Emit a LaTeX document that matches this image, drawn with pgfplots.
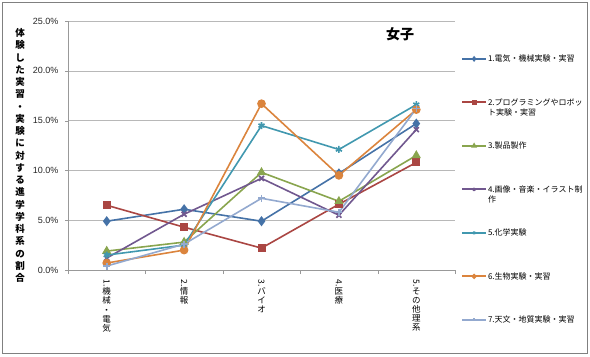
\documentclass[border=0pt]{standalone}
\usepackage{fontspec}
\setmainfont{Liberation Sans}
\newfontfamily\jp{Noto Sans CJK JP}
\usepackage{pgfplots}
\pgfplotsset{compat=1.18}
\definecolor{s1}{HTML}{4572A7}
\definecolor{s2}{HTML}{AA4643}
\definecolor{s3}{HTML}{89A54E}
\definecolor{s4}{HTML}{71588F}
\definecolor{s5}{HTML}{4198AF}
\definecolor{s6}{HTML}{DB843D}
\definecolor{s7}{HTML}{93A9CF}
\begin{document}
\begin{tikzpicture}
\useasboundingbox (0bp,0bp) rectangle (590bp,-357bp);
\draw[black!50, line width=0.9bp] (2bp,-2bp) rectangle (587bp,-353bp);
\begin{axis}[
  at={(68bp,-270bp)}, anchor=south west,
  scale only axis, width=387bp, height=249bp,
  xmin=0.5, xmax=5.5, ymin=0, ymax=25,
  axis lines*=left,
  axis line style={black!40, line width=0.6bp},
  xtick={1,2,3,4,5},
  major x tick style={draw=none},
  minor xtick={0.5,1.5,2.5,3.5,4.5,5.5},
  minor x tick style={black!40},
  minor tick length=4bp,
  tick align=outside,
  ytick={0,5,10,15,20,25},
  major y tick style={black!40}, major tick length=3bp,
  ymajorgrids,
  grid style={black!28, line width=0.6bp},
  /pgf/number format/assume math mode=true,
  yticklabel={\pgfmathprintnumber[fixed,fixed zerofill,precision=1]{\tick}\%},
  yticklabel style={font=\fontsize{9bp}{10bp}\selectfont, black!85, xshift=-3bp},
  xticklabels={
    {\rotatebox{-90}{1.}\\機\\械\\・\\電\\気},
    {\rotatebox{-90}{2.}\\情\\報},
    {\rotatebox{-90}{3.}\\バ\\イ\\オ},
    {\rotatebox{-90}{4.}\\医\\療},
    {\rotatebox{-90}{5.}\\そ\\の\\他\\理\\系}},
  xticklabel style={font=\jp\fontsize{8.5bp}{9.2bp}\selectfont, align=center, anchor=north, yshift=-3bp},
  ylabel={体\\験\\し\\た\\実\\習\\・\\実\\験\\に\\対\\す\\る\\進\\学\\学\\科\\系\\の\\割\\合},
  every axis y label/.style={at={(axis description cs:-0.124,0.46)}, anchor=center, align=center,
     font=\jp\bfseries\fontsize{9.5bp}{12.25bp}\selectfont},
  title={\jp\bfseries 女子},
  title style={at={(axis description cs:0.858,0.924)}, anchor=center, font=\fontsize{14bp}{14bp}\selectfont},
  legend style={at={(axis description cs:1.0078,0.944)}, anchor=north west, draw=none, fill=none,
     font=\jp\fontsize{8bp}{10bp}\selectfont,
     nodes={minimum height=43.5bp, inner sep=1bp, align=left, text width=95bp},
     column sep=0bp, row sep=0bp},
  legend cell align=left,
  legend image code/.code={\draw[#1, line width=1.8bp, mark indices={2}, mark size=1.6bp] plot coordinates {(0bp,0bp) (12bp,0bp) (24bp,0bp)};},
  every axis plot/.append style={line width=1.6bp, mark options={solid}},
]
\addplot[color=s1, mark=diamond*, mark size=3.8bp] coordinates {(1,4.9) (2,6.1) (3,4.9) (4,9.7) (5,14.7)};
\addlegendentry{1.電気・機械実験・実習}
\addplot[color=s2, mark=square*, mark size=3.2bp] coordinates {(1,6.5) (2,4.3) (3,2.2) (4,6.6) (5,10.8)};
\addlegendentry{2.プログラミングやロボッ\\ト実験・実習}
\addplot[color=s3, mark=triangle*, mark size=3.8bp] coordinates {(1,1.9) (2,2.8) (3,9.8) (4,6.9) (5,11.5)};
\addlegendentry{3.製品製作}
\addplot[color=s4, mark=x, mark size=3.5bp] coordinates {(1,1.2) (2,5.6) (3,9.2) (4,5.5) (5,14.1)};
\addlegendentry{4.画像・音楽・イラスト制\\作}
\addplot[color=s5, mark=asterisk, mark size=3.5bp] coordinates {(1,1.5) (2,2.5) (3,14.5) (4,12.1) (5,16.6)};
\addlegendentry{5.化学実験}
\addplot[color=s6, mark=*, mark size=3.5bp] coordinates {(1,0.7) (2,2.0) (3,16.7) (4,9.5) (5,16.1)};
\addlegendentry{6.生物実験・実習}
\addplot[color=s7, mark=+, mark size=3.5bp] coordinates {(1,0.4) (2,2.6) (3,7.2) (4,5.8) (5,16.2)};
\addlegendentry{7.天文・地質実験・実習}
\end{axis}
\end{tikzpicture}
\end{document}
